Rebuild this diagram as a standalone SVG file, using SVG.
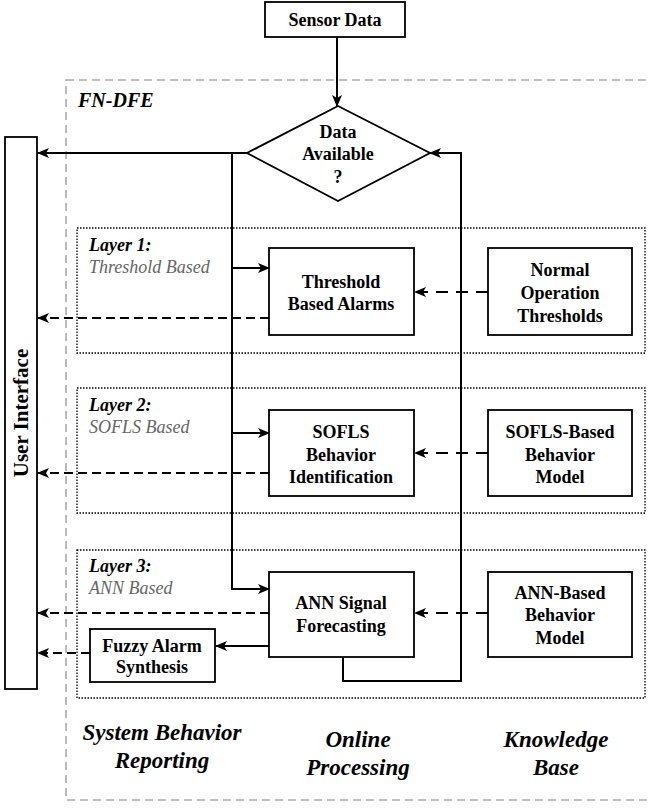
<svg xmlns="http://www.w3.org/2000/svg" width="651" height="808" viewBox="0 0 651 808">
<defs>
<marker id="ah" viewBox="0 0 12 10" refX="11" refY="5" markerWidth="12" markerHeight="10" markerUnits="userSpaceOnUse" orient="auto">
<path d="M0,0 L12,5 L0,10 L3,5 z" fill="#000"/>
</marker>
</defs>
<style>
.box{fill:#fff;stroke:#000;stroke-width:1.8}
.layer{fill:none;stroke:#000;stroke-width:1.3;stroke-dasharray:1.5 1.5}
.outer{fill:none;stroke:#aaa;stroke-width:1.6;stroke-dasharray:8 5}
.t{font-family:"Liberation Serif","Times New Roman",serif;font-weight:bold;font-size:18px;text-anchor:middle;fill:#000}
.lh{font-family:"Liberation Serif","Times New Roman",serif;font-weight:bold;font-style:italic;font-size:18px;fill:#000}
.ls{font-family:"Liberation Serif","Times New Roman",serif;font-style:italic;font-size:18px;fill:#666}
.big{font-family:"Liberation Serif","Times New Roman",serif;font-weight:bold;font-style:italic;font-size:23px;text-anchor:middle;fill:#000}
.c{fill:none;stroke:#000;stroke-width:2}
.d{fill:none;stroke:#000;stroke-width:2;stroke-dasharray:9 5}
.d2{fill:none;stroke:#000;stroke-width:2;stroke-dasharray:12 8}
</style>
<rect class="outer" x="66" y="80" width="600" height="720"/>
<text class="lh" x="78" y="107" style="font-size:20px">FN-DFE</text>
<g id="layer1"><rect class="layer" x="77" y="228" width="568" height="125"/><text class="lh" x="89" y="251">Layer 1:</text><text class="ls" x="89" y="273">Threshold Based</text></g>
<g id="layer2"><rect class="layer" x="77" y="388" width="568" height="125"/><text class="lh" x="89" y="411">Layer 2:</text><text class="ls" x="89" y="433">SOFLS Based</text></g>
<g id="layer3"><rect class="layer" x="77" y="550" width="568" height="148"/><text class="lh" x="89" y="572">Layer 3:</text><text class="ls" x="89" y="594">ANN Based</text></g>
<g id="connectors">
<path class="c" d="M337,37 V106" marker-end="url(#ah)"/>
<path class="c" d="M247,153 H38" marker-end="url(#ah)"/>
<path class="c" d="M232,153 V589 H269" marker-end="url(#ah)"/>
<path class="c" d="M232,268 H269" marker-end="url(#ah)"/>
<path class="c" d="M232,433 H269" marker-end="url(#ah)"/>
<path class="c" d="M343,657 V681 H461 V153 H430" marker-end="url(#ah)"/>
<path class="c" d="M269,646 H216" marker-end="url(#ah)"/>
<path class="d2" d="M488,292 H415" marker-end="url(#ah)"/>
<path class="d2" d="M488,453 H415" marker-end="url(#ah)"/>
<path class="d2" d="M488,613 H415" marker-end="url(#ah)"/>
<path class="d" d="M269,318 H38" marker-end="url(#ah)"/>
<path class="d" d="M269,473 H38" marker-end="url(#ah)"/>
<path class="d" d="M269,613 H38" marker-end="url(#ah)"/>
<path class="d" d="M90,653 H38" marker-end="url(#ah)"/>
</g>
<g id="sensor"><rect class="box" x="265" y="2" width="140" height="35"/><text class="t" x="335" y="26">Sensor Data</text></g>
<g id="decision"><polygon class="box" points="338,106 430,153 338,201 247,153"/><text class="t" x="338" y="138">Data</text><text class="t" x="338" y="160">Available</text><text class="t" x="338" y="183">?</text></g>
<g id="ui"><rect class="box" x="5" y="137" width="32" height="552"/><text class="t" transform="translate(28,413) rotate(-90)" style="font-size:21px">User Interface</text></g>
<g id="tba"><rect class="box" x="269" y="248" width="145" height="87"/><text class="t" x="341" y="288">Threshold</text><text class="t" x="341" y="310">Based Alarms</text></g>
<g id="not"><rect class="box" x="488" y="248" width="144" height="87"/><text class="t" x="560" y="276">Normal</text><text class="t" x="560" y="299">Operation</text><text class="t" x="560" y="322">Thresholds</text></g>
<g id="sofls"><rect class="box" x="269" y="410" width="145" height="86"/><text class="t" x="341" y="438">SOFLS</text><text class="t" x="341" y="461">Behavior</text><text class="t" x="341" y="483">Identification</text></g>
<g id="soflsmodel"><rect class="box" x="488" y="410" width="144" height="86"/><text class="t" x="560" y="438">SOFLS-Based</text><text class="t" x="560" y="461">Behavior</text><text class="t" x="560" y="483">Model</text></g>
<g id="ann"><rect class="box" x="269" y="572" width="145" height="85"/><text class="t" x="341" y="609">ANN Signal</text><text class="t" x="341" y="632">Forecasting</text></g>
<g id="annmodel"><rect class="box" x="488" y="572" width="144" height="85"/><text class="t" x="560" y="599">ANN-Based</text><text class="t" x="560" y="621">Behavior</text><text class="t" x="560" y="644">Model</text></g>
<g id="fuzzy"><rect class="box" x="90" y="629" width="125" height="53"/><text class="t" x="152" y="652">Fuzzy Alarm</text><text class="t" x="152" y="673">Synthesis</text></g>
<text class="big" x="162" y="740">System Behavior</text>
<text class="big" x="162" y="768">Reporting</text>
<text class="big" x="358" y="747">Online</text>
<text class="big" x="358" y="775">Processing</text>
<text class="big" x="556" y="747">Knowledge</text>
<text class="big" x="556" y="775">Base</text>
</svg>
